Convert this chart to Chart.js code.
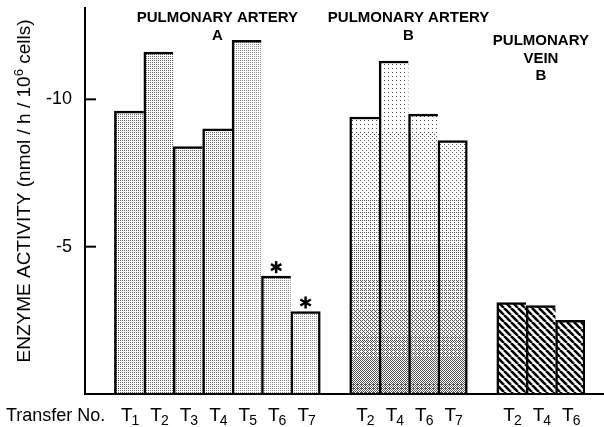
<!DOCTYPE html>
<html lang="en">
<head>
<meta charset="UTF-8" />
<title>Enzyme activity by transfer</title>
<script src="https://cdn.jsdelivr.net/npm/chart.js"></script>
<style>
  body { margin: 0; background: #fff; }
  .wrap { position: relative; width: 604px; height: 427px; }
</style>
</head>
<body>
<div class="wrap"><canvas id="myChart"></canvas></div>
<script>
// values (nmol/h/10^6 cells)
var arteryALabels = ["T1", "T2", "T3", "T4", "T5", "T6", "T7"];
var arteryAValues = [9.6, 11.6, 8.4, 9.0, 12.0, 4.0, 2.8];
var arteryAStarred = ["T6", "T7"];

var arteryBLabels = ["T2", "T4", "T6", "T7"];
var arteryBValues = [9.4, 11.3, 9.5, 8.6];

var veinLabels = ["T2", "T4", "T6"];
var veinValues = [3.1, 3.0, 2.5];

var yTicks = [5, 10];
var yTitleParts = ["ENZYME ACTIVITY (nmol / h / 10", "6", " cells)"];
var xCaption = "Transfer No.";
var titleA = ["PULMONARY ARTERY", "A"];
var titleB = ["PULMONARY ARTERY", "B"];
var titleV = ["PULMONARY", "VEIN", "B"];

var FONT = "'Liberation Sans', Arial, sans-serif";

// one empty slot before each group
var startA = 1;
var startB = startA + arteryALabels.length + 1;
var startV = startB + arteryBLabels.length + 1;
var categories = [""].concat(arteryALabels, [""], arteryBLabels, [""], veinLabels);

function pad(values, start) {
  var arr = [];
  for (var i = 0; i < categories.length; i++) arr.push(null);
  values.forEach(function(v, i) { arr[start + i] = v; });
  return arr;
}

// --- fill patterns ---
function dotPattern(shade) {
  var c = document.createElement("canvas");
  c.width = 2; c.height = 2;
  var g = c.getContext("2d");
  g.fillStyle = "#fff"; g.fillRect(0, 0, 2, 2);
  g.fillStyle = shade; g.fillRect(0, 0, 1, 1);
  return g.createPattern(c, "repeat");
}

// stipple that gets denser toward the bottom (ordered dither)
function fadePattern() {
  var bayer = [[0, 8, 2, 10], [12, 4, 14, 6], [3, 11, 1, 9], [15, 7, 13, 5]];
  var c = document.createElement("canvas");
  c.width = 4; c.height = 427;
  var g = c.getContext("2d");
  g.fillStyle = "#fff"; g.fillRect(0, 0, 4, 427);
  g.fillStyle = "#555";
  for (var y = 0; y < 427; y++) {
    var t = Math.max(0, Math.min(1, (y - 60) / 334));
    var d = 0.07 + 0.5 * t * t;
    for (var x = 0; x < 4; x++) {
      if (d > (bayer[y % 4][x] + 0.5) / 16) g.fillRect(x, y, 1, 1);
    }
  }
  return g.createPattern(c, "repeat");
}

function hatchPattern() {
  var s = 7;
  var c = document.createElement("canvas");
  c.width = s; c.height = s;
  var g = c.getContext("2d");
  g.fillStyle = "#fff"; g.fillRect(0, 0, s, s);
  g.strokeStyle = "#000"; g.lineWidth = 2.6;
  [-s, 0, s].forEach(function(o) {
    g.beginPath(); g.moveTo(o, 0); g.lineTo(o + s, s); g.stroke();
  });
  return g.createPattern(c, "repeat");
}

var darkDots = dotPattern("#5e5e5e");
var lightDots = dotPattern("#8c8c8c");
var fade = fadePattern();
var hatch = hatchPattern();

function edges(start, count) {
  return function(c) {
    return { top: 2.5, left: 2.5, right: c.dataIndex === start + count - 1 ? 2.5 : 0, bottom: 0 };
  };
}

// --- annotations drawn on top ---
var overlay = {
  id: "overlay",
  afterDraw: function(chart) {
    var ctx = chart.ctx, xs = chart.scales.x, ys = chart.scales.y, area = chart.chartArea;
    var base = ys.getPixelForValue(0);
    ctx.save();
    ctx.strokeStyle = "#000";
    ctx.fillStyle = "#000";

    // baseline runs on to the right edge
    ctx.lineWidth = 2;
    ctx.beginPath(); ctx.moveTo(area.left - 1, base); ctx.lineTo(chart.width, base); ctx.stroke();

    // tick marks point into the plot
    yTicks.forEach(function(v) {
      var py = ys.getPixelForValue(v);
      ctx.beginPath(); ctx.moveTo(area.left, py); ctx.lineTo(area.left + 11, py); ctx.stroke();
    });

    // T with subscript number
    ctx.textBaseline = "alphabetic";
    ctx.textAlign = "left";
    categories.forEach(function(lab, i) {
      if (!lab) return;
      var cx = xs.getPixelForValue(i);
      var head = lab.charAt(0), sub = lab.slice(1);
      ctx.font = "19px " + FONT;
      var w1 = ctx.measureText(head).width;
      ctx.font = "14px " + FONT;
      var w2 = ctx.measureText(sub).width;
      var x0 = cx - (w1 + w2 - 1) / 2 + 1;
      ctx.font = "19px " + FONT;
      ctx.fillText(head, x0, 421);
      ctx.font = "14px " + FONT;
      ctx.fillText(sub, x0 + w1 - 1, 425);
    });
    ctx.font = "18px " + FONT;
    ctx.fillText(xCaption, 6, 421);

    // group headings
    ctx.font = "bold 15px " + FONT;
    ctx.textAlign = "center";
    ctx.textBaseline = "middle";
    function heading(lines, start, count, y0, step) {
      var cx = (xs.getPixelForValue(start) + xs.getPixelForValue(start + count - 1)) / 2;
      lines.forEach(function(t, k) { ctx.fillText(t, cx, y0 + k * step); });
    }
    heading(titleA, startA, arteryALabels.length, 17.5, 18.5);
    heading(titleB, startB, arteryBLabels.length, 17.5, 18.5);
    heading(titleV, startV, veinLabels.length, 41, 17.5);

    // asterisks
    ctx.lineWidth = 2.5;
    arteryAStarred.forEach(function(lab) {
      var i = startA + arteryALabels.indexOf(lab);
      var cx = xs.getPixelForValue(i), cy = ys.getPixelForValue(arteryAValues[i - startA]) - 9;
      [90, 30, 150].forEach(function(a) {
        var r = 6, rad = a * Math.PI / 180;
        ctx.beginPath();
        ctx.moveTo(cx - r * Math.cos(rad), cy - r * Math.sin(rad));
        ctx.lineTo(cx + r * Math.cos(rad), cy + r * Math.sin(rad));
        ctx.stroke();
      });
    });

    // rotated y title with superscript
    ctx.translate(25, 191);
    ctx.rotate(-Math.PI / 2);
    ctx.textAlign = "left";
    ctx.textBaseline = "middle";
    ctx.font = "19px " + FONT;
    var a = ctx.measureText(yTitleParts[0]).width;
    var c2 = ctx.measureText(yTitleParts[2]).width;
    ctx.font = "13px " + FONT;
    var b = ctx.measureText(yTitleParts[1]).width;
    var sx = -(a + b + c2) / 2;
    ctx.font = "19px " + FONT;
    ctx.fillText(yTitleParts[0], sx, 0);
    ctx.font = "13px " + FONT;
    ctx.fillText(yTitleParts[1], sx + a, -6);
    ctx.font = "19px " + FONT;
    ctx.fillText(yTitleParts[2], sx + a + b, 0);
    ctx.restore();
  }
};

var ctx = document.getElementById("myChart").getContext("2d");
new Chart(ctx, {
  type: "bar",
  data: {
    labels: categories,
    datasets: [
      {
        data: pad(arteryAValues, startA),
        backgroundColor: function(c) { return c.dataIndex < startA + 4 ? darkDots : lightDots; },
        borderWidth: edges(startA, arteryALabels.length)
      },
      {
        data: pad(arteryBValues, startB),
        backgroundColor: fade,
        borderWidth: edges(startB, arteryBLabels.length)
      },
      {
        data: pad(veinValues, startV),
        backgroundColor: hatch,
        borderWidth: edges(startV, veinLabels.length)
      }
    ]
  },
  options: {
    responsive: true,
    maintainAspectRatio: false,
    animation: false,
    datasets: {
      bar: { grouped: false, barPercentage: 1, categoryPercentage: 1, borderColor: "#000", borderSkipped: "bottom" }
    },
    layout: { padding: { left: 0, right: 19, top: 8, bottom: 33 } },
    plugins: { legend: { display: false }, tooltip: { enabled: false } },
    scales: {
      x: { display: false },
      y: {
        min: 0,
        max: 13.1,
        afterBuildTicks: function(s) { s.ticks = yTicks.map(function(v) { return { value: v }; }); },
        afterFit: function(s) { s.width = 85; s.paddingTop = 0; s.paddingBottom = 0; },
        grid: { display: false },
        border: { color: "#000", width: 2 },
        ticks: {
          color: "#000",
          padding: 5,
          font: { family: FONT, size: 18 },
          callback: function(v) { return "-" + v; }
        }
      }
    }
  },
  plugins: [overlay]
});
</script>
</body>
</html>
